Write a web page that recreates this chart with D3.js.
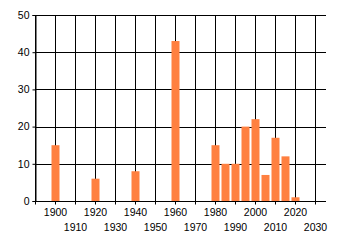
<!DOCTYPE html>
<html>
<head>
<meta charset="utf-8">
<script src="https://cdn.jsdelivr.net/npm/d3@7"></script>
<style>
  body { margin: 0; background: #fff; }
  text { font-family: "Liberation Sans", sans-serif; font-size: 10.5px; fill: #000; }
</style>
</head>
<body>
<div id="chart"></div>
<script>
// bar data
const years = [1900, 1920, 1940, 1960, 1980, 1985, 1990, 1995, 2000, 2005, 2010, 2015, 2020];
const counts = [15, 6, 8, 43, 15, 10, 10, 20, 22, 7, 17, 12, 1];
const xTicks = [1890, 1900, 1910, 1920, 1930, 1940, 1950, 1960, 1970, 1980, 1990, 2000, 2010, 2020, 2030];
const yTicks = [0, 10, 20, 30, 40, 50];

const width = 340, height = 245;
const margin = { top: 15, right: 14, bottom: 44, left: 35 };
const innerW = width - margin.left - margin.right;
const innerH = height - margin.top - margin.bottom;

const svg = d3.select("#chart").append("svg")
  .attr("width", width)
  .attr("height", height);

const g = svg.append("g")
  .attr("transform", `translate(${margin.left},${margin.top})`);

const x = d3.scaleLinear().domain([1890, 2035.5]).range([0, innerW]);
const y = d3.scaleLinear().domain([0, 50]).range([innerH, 0]);

// grid
g.append("g").selectAll("line")
  .data(yTicks)
  .join("line")
  .attr("x1", 0).attr("x2", innerW)
  .attr("y1", d => Math.round(y(d)) + 0.5)
  .attr("y2", d => Math.round(y(d)) + 0.5)
  .attr("stroke", "#000");

g.append("g").selectAll("line")
  .data(xTicks)
  .join("line")
  .attr("x1", d => Math.round(x(d)) + 0.5)
  .attr("x2", d => Math.round(x(d)) + 0.5)
  .attr("y1", 0).attr("y2", innerH)
  .attr("stroke", "#000");

// bars
const barW = x(1904) - x(1900);
g.selectAll(".bar")
  .data(years.map((yr, i) => ({ yr, n: counts[i] })))
  .join("rect")
  .attr("class", "bar")
  .attr("x", d => x(d.yr) - barW / 2 + 0.5)
  .attr("width", barW)
  .attr("y", d => y(d.n))
  .attr("height", d => innerH - y(d.n))
  .attr("fill", "#ff8040");

// axes
const yAxis = g.append("g")
  .attr("transform", "translate(0.5,0)")
  .call(d3.axisLeft(y).tickValues(yTicks).tickSize(3).tickPadding(3));

const xAxis = g.append("g")
  .attr("transform", `translate(0,${innerH + 0.5})`)
  .call(d3.axisBottom(x).tickValues(xTicks).tickSize(3).tickPadding(4).tickFormat(d3.format("d")));

xAxis.selectAll(".tick")
  .filter(d => d === 1890)
  .select("text").remove();
// odd decades go on a second row
xAxis.selectAll(".tick text")
  .attr("dy", d => (d / 10) % 2 === 1 ? "2.15em" : "0.71em");

svg.selectAll(".domain").attr("stroke", "#000");
svg.selectAll(".tick line").attr("stroke", "#000");
xAxis.select(".domain").attr("d", `M0,0H${innerW}`);
</script>
</body>
</html>
